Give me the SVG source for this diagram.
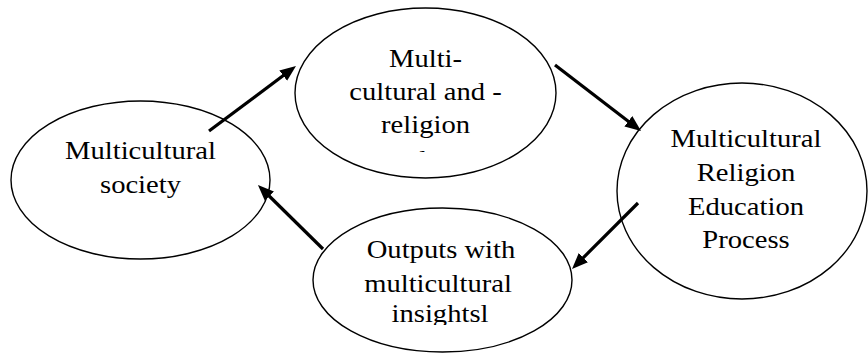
<svg xmlns="http://www.w3.org/2000/svg" width="868" height="353" viewBox="0 0 868 353">
<style>
.node ellipse{fill:#fff;stroke:#000;stroke-width:1.4}
.node text{font-family:'Liberation Serif','Times New Roman',serif;font-size:26px;fill:#000;text-anchor:middle}
.conn line{stroke:#000;stroke-width:3.2;fill:none}
</style>
<defs>
<marker id="ah" markerUnits="userSpaceOnUse" markerWidth="17" markerHeight="14" refX="6" refY="6.5" orient="auto">
<path d="M0,0 L16,6.5 L0,13 z" fill="#000"/>
</marker>
<clipPath id="clipTop"><rect x="290" y="0" width="270" height="152"/></clipPath>
<clipPath id="clipBottom"><rect x="300" y="200" width="280" height="125"/></clipPath>
</defs>
<rect width="868" height="353" fill="#fff"/>
<g id="society" class="node">
<ellipse cx="140.5" cy="180" rx="129.5" ry="79"/>
<text transform="translate(140.5,159) scale(1.1,1)">Multicultural</text>
<text transform="translate(140.5,193) scale(1.1,1)">society</text>
</g>
<g id="students" class="node">
<ellipse cx="425.5" cy="93" rx="130.5" ry="85"/>
<g clip-path="url(#clipTop)">
<text transform="translate(425.5,67) scale(1.1,1)">Multi-</text>
<text transform="translate(425.5,100) scale(1.1,1)">cultural and -</text>
<text transform="translate(425.5,133) scale(1.1,1)">religion</text>
<text transform="translate(425.5,168) scale(1.1,1)">students</text>
</g>
</g>
<g id="process" class="node">
<ellipse cx="742" cy="191" rx="125" ry="108"/>
<text transform="translate(746,147) scale(1.1,1)">Multicultural</text>
<text transform="translate(746,181) scale(1.1,1)">Religion</text>
<text transform="translate(746,215) scale(1.1,1)">Education</text>
<text transform="translate(746,248) scale(1.1,1)">Process</text>
</g>
<g id="outputs" class="node">
<ellipse cx="442.5" cy="280" rx="129.5" ry="72"/>
<g clip-path="url(#clipBottom)">
<text transform="translate(441,258) scale(1.1,1)">Outputs with</text>
<text transform="translate(438,292) scale(1.1,1)">multicultural</text>
<text transform="translate(440,322) scale(1.1,1)">insightsl</text>
</g>
</g>
<g id="connectors" class="conn">
<line x1="209" y1="131" x2="288" y2="72" marker-end="url(#ah)"/>
<line x1="555" y1="65" x2="633.1" y2="124.9" marker-end="url(#ah)"/>
<line x1="638" y1="203" x2="579.1" y2="261.9" marker-end="url(#ah)"/>
<line x1="323" y1="249" x2="265.1" y2="192" marker-end="url(#ah)"/>
</g>
</svg>
